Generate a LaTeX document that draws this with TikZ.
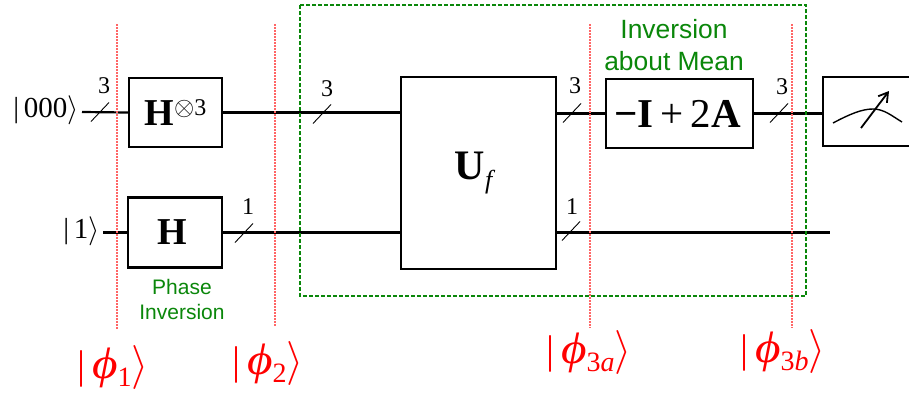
\documentclass[tikz,border=0pt]{standalone}
\usepackage{fontspec}
\setmainfont{Liberation Serif}
\setsansfont{Liberation Sans}
\usetikzlibrary{positioning,arrows.meta}
\definecolor{notegreen}{RGB}{10,135,10}
\newcommand{\ketsym}[2]{|\,#2\scalebox{#1}{\fontsize{10}{12}\selectfont$\rangle$}}
\newcommand{\mathscaled}[2]{\scalebox{#1}{\fontsize{10}{12}\selectfont$#2$}}
\newcommand{\stateket}[1]{\ketsym{4.4}{\scalebox{1.12}[1]{\fontsize{44}{46}\selectfont\textit{ϕ}}\raisebox{-8pt}{\fontsize{28}{30}\selectfont #1}}}
\begin{document}
\begin{tikzpicture}[
  x=1pt,y=-1pt,
  gate/.style={draw,line width=2.2pt,inner sep=0pt,font=\fontsize{38}{40}\selectfont\bfseries},
  wire/.style={line width=2.2pt},
  slash/.style={line width=0.9pt},
  count/.style={inner sep=0pt,font=\fontsize{24}{26}\selectfont},
  ketin/.style={inner sep=0pt,font=\fontsize{29}{32}\selectfont},
  state/.style={inner sep=0pt,text=red,font=\fontsize{40}{44}\selectfont},
  marker/.style={red!60,line width=1.1pt,dash pattern=on 2pt off 1pt},
  frame/.style={notegreen,line width=1.1pt,dash pattern=on 4pt off 2pt},
  note/.style={inner sep=0pt,align=center,text=notegreen,font=\sffamily}
]
\clip (0,0) rectangle (909,394);
\fill[white] (0,0) rectangle (909,394);
% boxes
\node[gate,minimum width=93pt,minimum height=69pt] (Hthree) at (175.5,112.5) {H\raisebox{10pt}{\fontsize{24}{26}\selectfont\mdseries\mathscaled{2.6}{\otimes}3}};
\node[gate,minimum width=94pt,minimum height=70pt] (Hone) at (175,232.5) {\hspace*{-6pt}H};
\node[gate,font=\fontsize{42}{44}\selectfont\bfseries,minimum width=155pt,minimum height=192pt] (Uf) at (478.5,173) {\hspace*{-10pt}U\raisebox{-9pt}{\fontsize{26}{28}\selectfont\mdseries\itshape f}};
\node[gate,font=\fontsize{41}{43}\selectfont\bfseries,minimum width=147pt,minimum height=69pt] (Diff) at (679.5,113.5) {\hspace*{-4pt}−I\,\mdseries+\,2\bfseries A};
\node[gate,minimum width=100pt,minimum height=69pt] (Meter) at (873,111.5) {};
\node[ketin,anchor=east] (Kthree) at (79,110) {\ketsym{2.9}{000}};
\node[ketin,anchor=east] (Kone) at (100,231) {\ketsym{2.9}{1}};
\coordinate (Wend) at (830,232.5);
% wires
\draw[wire] (Kthree.east) ++(3,2) -- (Hthree.west);
\draw[wire] (Kone.east) ++(3,1.5) -- (Hone.west);
\draw[wire] (Hthree.east) -- (Hthree.east -| Uf.west);
\draw[wire] (Hone.east) -- (Hone.east -| Uf.west);
\draw[wire] (Diff.west -| Uf.east) -- (Diff.west);
\draw[wire] (Diff.east) -- (Diff.east -| Meter.west);
\draw[wire] (Wend -| Uf.east) -- (Wend);
% bus widths
\foreach \x/\y/\lx/\ly/\n [count=\i] in {100/112/104/86/3,322/114/327/89/3,572/113/575/86/3,779/113/782/87/3,244/233/248/207/1,571/231/572/207/1} {
  \draw[slash] (\x-9,\y+9.5) -- (\x+9,\y-9.5);
  \node[count] (N\i) at (\lx,\ly) {\n};
}
% meter
\draw[line width=1.4pt] (833,123) .. controls (850,114) and (862,109) .. (873,109) .. controls (884,109) and (892,116) .. (902,122);
\draw[line width=1.8pt,-{Straight Barb[length=9pt,width=11pt]}] (861,128) -- (889,91);
% time slices
\foreach \x/\yb in {117/329,275/326,590/328,792/328} \draw[marker] (\x,24) -- (\x,\yb);
\draw[frame] (300,5) rectangle (806,296);
% labels
\node[note,font=\sffamily\fontsize{26.4}{32}\selectfont] (Nmean) at (674,45) {Inversion\\about Mean};
\node[note,font=\sffamily\fontsize{21}{25}\selectfont] (Nphase) at (182,299) {Phase\\Inversion};
\node[state] (P1) at (113,367) {\stateket{1}};
\node[state] (P2) at (268,363) {\stateket{2}};
\node[state] (P3a) at (589,352) {\stateket{3\textit{a}}};
\node[state] (P3b) at (783,351) {\stateket{3\textit{b}}};
\end{tikzpicture}
\end{document}
